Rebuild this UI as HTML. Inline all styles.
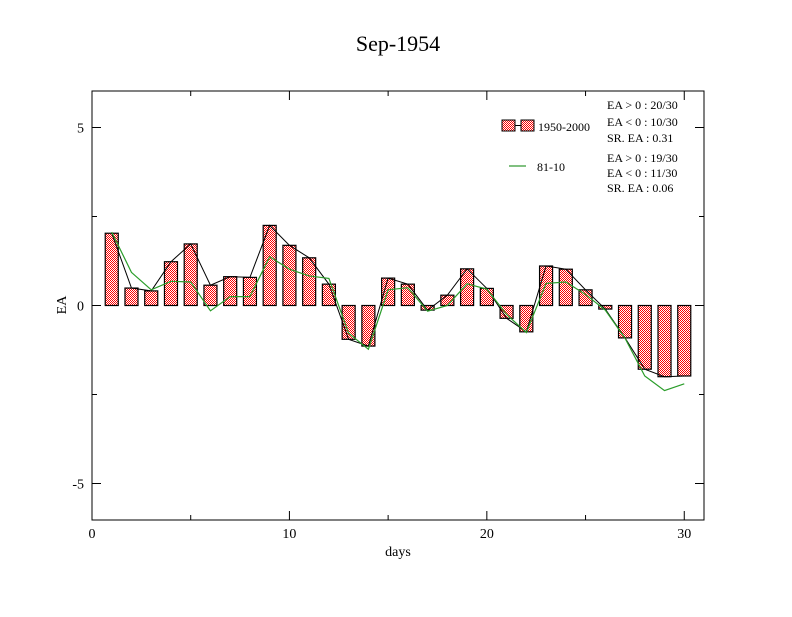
<!DOCTYPE html>
<html><head><meta charset="utf-8"><style>
body{margin:0;background:#fff;}
svg text{font-family:"Liberation Serif",serif;}
</style></head><body>
<svg id="chart" width="792" height="612" xmlns="http://www.w3.org/2000/svg">
<defs><pattern id="chk" width="2" height="2" patternUnits="userSpaceOnUse"><rect width="2" height="2" fill="#fff"/><rect width="1" height="1" fill="#f00"/><rect x="1" y="1" width="1" height="1" fill="#f00"/></pattern></defs>
<rect width="792" height="612" fill="#fff"/>
<text x="398" y="51" font-size="22" text-anchor="middle">Sep-1954</text>
<rect x="92" y="91" width="612" height="429" fill="none" stroke="#000" stroke-width="1"/>
<g id="axes"></g>
<g id="bars"></g>
<g id="lines"></g>
<text x="398" y="556" font-size="14" text-anchor="middle">days</text>
<text x="66" y="305" font-size="14" text-anchor="middle" transform="rotate(-90 66 305)">EA</text>
<g>
<rect x="502" y="120" width="13" height="11" fill="url(#chk)" stroke="#000"/>
<line x1="515" y1="125.5" x2="521" y2="125.5" stroke="#000"/>
<rect x="521" y="120" width="13" height="11" fill="url(#chk)" stroke="#000"/>
<text x="538" y="131" font-size="12">1950-2000</text>
<line x1="509" y1="166" x2="526" y2="166" stroke="#008000"/>
<text x="537" y="171" font-size="12">81-10</text>
<g font-size="12">
<text x="607" y="109">EA &gt; 0 : 20/30</text>
<text x="607" y="126">EA &lt; 0 : 10/30</text>
<text x="607" y="142">SR. EA :  0.31</text>
<text x="607" y="162">EA &gt; 0 : 19/30</text>
<text x="607" y="177">EA &lt; 0 : 11/30</text>
<text x="607" y="192">SR. EA :  0.06</text>
</g></g>
</svg>
<script>
const days=[1,2,3,4,5,6,7,8,9,10,11,12,13,14,15,16,17,18,19,20,21,22,23,24,25,26,27,28,29,30];
const barValues=[2.03,0.49,0.41,1.23,1.73,0.57,0.81,0.79,2.25,1.69,1.34,0.6,-0.95,-1.14,0.77,0.6,-0.13,0.29,1.03,0.48,-0.36,-0.74,1.11,1.02,0.44,-0.1,-0.91,-1.79,-2.0,-1.98];
const greenValues=[2.06,0.93,0.44,0.68,0.66,-0.15,0.25,0.25,1.37,1.02,0.83,0.76,-0.78,-1.23,0.44,0.5,-0.16,0,0.61,0.46,-0.25,-0.76,0.62,0.66,0.31,-0.13,-0.92,-1.98,-2.39,-2.2];
const xTicks=[0,10,20,30];
const yTicks=[-5,0,5];
const NS="http://www.w3.org/2000/svg";
const X=v=>92+v*(612/31);
const Y=v=>305.5-v*35.6;
function mk(t,a,p){const e=document.createElementNS(NS,t);for(const k in a)e.setAttribute(k,a[k]);p.appendChild(e);return e;}
const axes=document.getElementById('axes'),bars=document.getElementById('bars'),lines=document.getElementById('lines');
xTicks.forEach(t=>{
 const l=mk('line',{x1:X(t),x2:X(t),y1:520,y2:511,stroke:'#000'},axes);
 
 
 const l2=mk('line',{x1:X(t),x2:X(t),y1:91,y2:100,stroke:'#000'},axes);
 
 
 const tx=mk('text',{x:X(t),y:538,'font-size':14,'text-anchor':'middle'},axes);tx.textContent=t;
 
 
});
[5,15,25].forEach(t=>{mk('line',{x1:X(t),x2:X(t),y1:520,y2:515,stroke:'#000'},axes);mk('line',{x1:X(t),x2:X(t),y1:91,y2:96,stroke:'#000'},axes);});
yTicks.forEach(t=>{
 const l=mk('line',{x1:92,x2:101,y1:Y(t),y2:Y(t),stroke:'#000'},axes);
 
 
 mk('line',{x1:695,x2:704,y1:Y(t),y2:Y(t),stroke:'#000'},axes);
 const tx=mk('text',{x:84,y:Y(t)+5,'font-size':14,'text-anchor':'end'},axes);tx.textContent=t;
 
 
});
[-2.5,2.5].forEach(t=>{mk('line',{x1:92,x2:97,y1:Y(t),y2:Y(t),stroke:'#000'},axes);mk('line',{x1:699,x2:704,y1:Y(t),y2:Y(t),stroke:'#000'},axes);});
const bw=612/31*0.66;
days.forEach((d,i)=>{
 const v=barValues[i];
 const r=mk('rect',{x:X(d)-bw/2,y:Math.min(Y(v),Y(0)),width:bw,height:Math.abs(Y(v)-Y(0)),fill:'url(#chk)',stroke:'#000','stroke-width':1.2},bars);
 
 
});
const p1=mk('polyline',{points:days.map((d,i)=>X(d)+','+Y(barValues[i])).join(' '),fill:'none',stroke:'#000','stroke-width':1},lines);


const p2=mk('polyline',{points:days.map((d,i)=>X(d)+','+Y(greenValues[i])).join(' '),fill:'none',stroke:'#2a9d2a','stroke-width':1.2},lines);


</script>
</body></html>
